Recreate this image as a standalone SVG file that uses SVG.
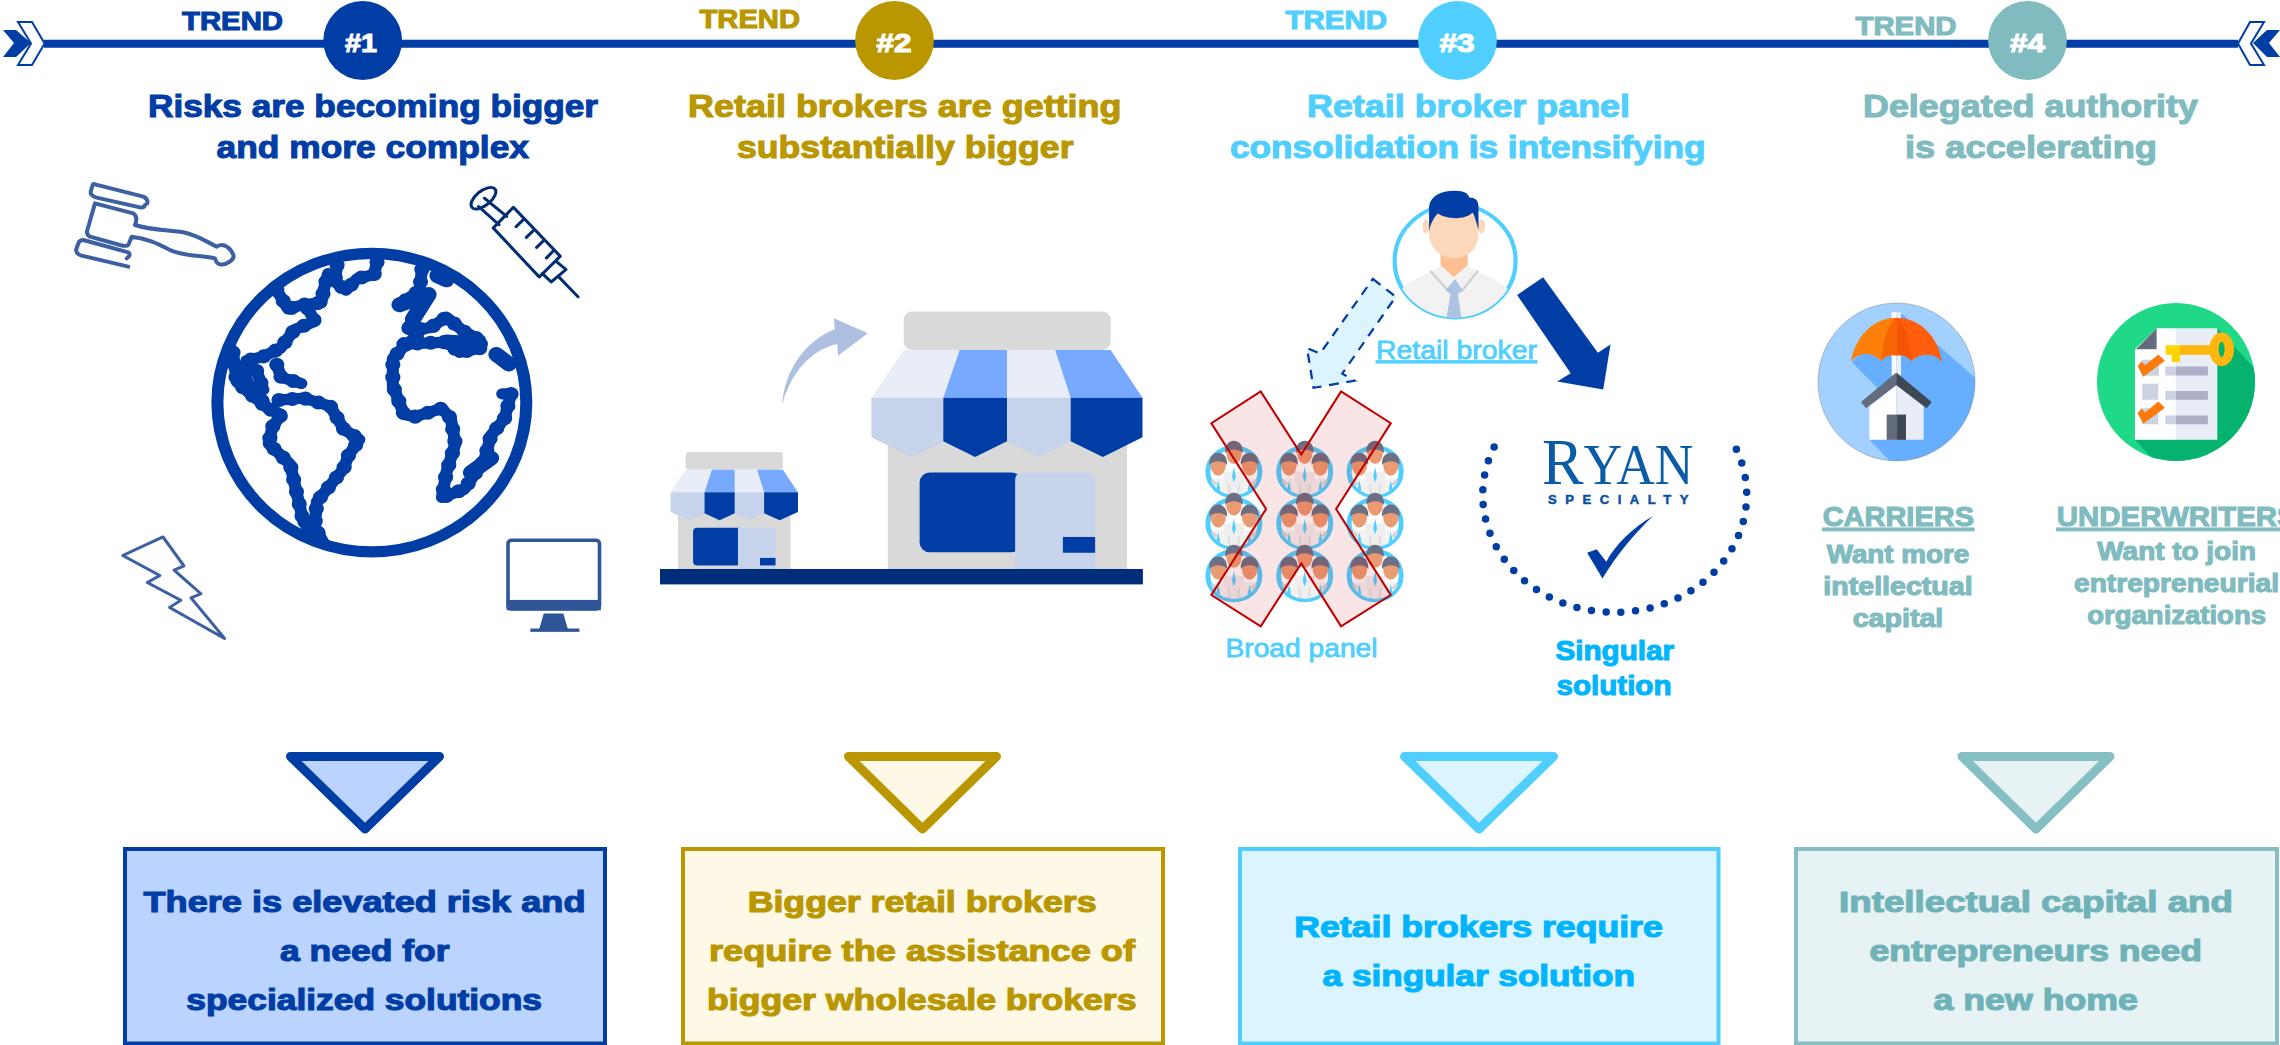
<svg xmlns="http://www.w3.org/2000/svg" xmlns:xlink="http://www.w3.org/1999/xlink" width="2280" height="1045" viewBox="0 0 2280 1045">
<style>
text{font-family:"Liberation Sans",Arial,sans-serif;font-weight:700;stroke-width:1.1px;paint-order:stroke}
.c1{fill:#003DA5;stroke:#003DA5}.c2{fill:#BA9700;stroke:#BA9700}.c3{fill:#50CFFF;stroke:#50CFFF}.c4{fill:#7FBBBF;stroke:#7FBBBF}
.c3b{fill:#00B4FF;stroke:#00B4FF}.c4b{fill:#6FB2B8;stroke:#6FB2B8}
.h{font-size:32px}.tr{font-size:26px}.num{font-size:26px;fill:#fff;stroke:#fff;text-anchor:middle}.bx{font-size:29px}.lb{font-size:25px}.ul{font-size:28px;text-decoration:underline}
.edge{stroke-linejoin:round;stroke-width:9}
.ln{fill:none;stroke-linejoin:round;stroke-linecap:round}
</style>
<defs>
<clipPath id="peepclip"><circle r="65"/></clipPath>
<g id="peephead"><ellipse cy="-52" rx="20" ry="30" fill="#EB9B72"/><path d="M-23-52C-27-98 27-98 23-52 13-66-13-66-23-52Z" fill="#6D7085"/></g>
<path id="continents" d="M755 640 750 680 775 700 800 672 838 662 845 630M620 700 645 745 680 735 720 730 725 700 735 660M690 745 705 775 660 795 628 840 590 860 552 870 548 915 575 950 600 985 630 1000 610 1030 602 1070 650 1120 667 1200 680 1260 720 1300M625 965 680 960 740 980 770 1035 805 1060 780 1100 770 1130 740 1170 710 1210 705 1270 725 1310M522 850 530 920 555 945 600 985M575 895 590 940M620 880 630 910 675 925M945 650 940 700 895 735 960 710 925 770 915 790 935 810 905 835 880 865 880 930 905 1000 930 1005 990 985 1010 1010 1020 1070 1000 1140 990 1200 1040 1180 1085 1110 1100 1050 1130 1010 1145 950 1125 950M905 830 1000 825 1030 850 1075 840 1075 820 1040 800 1000 765 965 790 935 795"/>
<g id="peeps">
<circle r="68" fill="#fff" stroke="#50CFFF" stroke-width="13"/>
<g clip-path="url(#peepclip)">
<path d="M-26 0H26L30 70H-30Z" fill="#EEE"/>
<path d="M-66 40C-60 22-50 18-41 18-32 18-22 22-18 40L-20 70H-66Z" fill="#F2F2F2"/>
<path d="M66 40C60 22 50 18 41 18 32 18 22 22 18 40L20 70H66Z" fill="#F2F2F2"/>
<path d="M0-14 5 14 0 30-5 14Z" fill="#50CFFF"/>
<path d="M-41 24-36 50-41 66-46 50ZM41 24 46 50 41 66 36 50Z" fill="#50CFFF"/>
<path d="M-56 22-44 34-60 42ZM56 22 44 34 60 42ZM-14 36-10 66M14 36 10 66" fill="#D4D4D4" stroke="#D4D4D4" stroke-width="3"/>
</g>
<use xlink:href="#peephead" href="#peephead"/>
<use xlink:href="#peephead" href="#peephead" transform="translate(-41 33)"/>
<use xlink:href="#peephead" href="#peephead" transform="translate(41 33)"/>
</g>
<clipPath id="cC"><ellipse cx="349.5" cy="907.5" rx="235.5" ry="187.5"/></clipPath>
<clipPath id="cU"><ellipse cx="1188" cy="907.5" rx="237" ry="187.5"/></clipPath>
<clipPath id="cB"><circle cx="745" cy="283" r="158"/></clipPath>
</defs>

<g id="connectors">
<path d="M44 43.700H2238" fill="none" stroke="#003DA5" stroke-width="8"/>
<path d="M3 30H16L31 43 16 57H3L14 43Z" fill="#003DA5"/>
<path d="M18 22H32L44.600 43.500 32 65H18L31 43.500Z" fill="#fff" stroke="#003DA5" stroke-width="2"/>
<path d="M2280 30H2267L2253 43 2267 57H2280L2269 43Z" fill="#003DA5"/>
<path d="M2264 22H2250L2238 43.500 2250 65H2264L2251 43.500Z" fill="#fff" stroke="#003DA5" stroke-width="2"/>
<path class="edge" d="M290.500 756.500H439.500L365 829Z" fill="#BAD3FF" stroke="#003DA5"/>
<path class="edge" d="M848.500 756.500H996.500L922.500 829Z" fill="#FEF8E6" stroke="#BA9700"/>
<path class="edge" d="M1404.500 756.500H1553.500L1479 829Z" fill="#DCF4FE" stroke="#50CFFF"/>
<path class="edge" d="M1962 756.500H2110L2036 829Z" fill="#E6F2F3" stroke="#85BFC3"/>
<g transform="translate(640 0) scale(.4082 .3954)"><path d="M348 1025C355 930 410 860 477 833L475 805 558 843 485 900 483 870C420 885 370 940 348 1025Z" fill="#AEBFE2"/></g>
<g transform="translate(1170 160) scale(.3827 .3571)">
<path d="M530 333 590 383 450 598 482 618 375 638 358 527 392 542Z" fill="#DCF4FE" stroke="#003DA5" stroke-width="6" stroke-dasharray="26 20"/>
<path d="M975 328 1118 540 1151 517 1132 643 1012 620 1047 597 907 378Z" fill="#003DA5"/>
</g>
</g>

<g id="trend1">
<circle cx="362.700" cy="40.500" r="39.400" fill="#003DA5"/>
<text class="num" x="361" y="52" textLength="32" lengthAdjust="spacingAndGlyphs">#1</text>
<text class="tr c1" x="182" y="30" textLength="101" lengthAdjust="spacingAndGlyphs">TREND</text>
<text class="h c1" x="148" y="117" textLength="450" lengthAdjust="spacingAndGlyphs">Risks are becoming bigger</text>
<text class="h c1" x="216.500" y="157.500" textLength="312.500" lengthAdjust="spacingAndGlyphs">and more complex</text>
</g>
<g id="globe" transform="scale(.4464 .4146)">
<ellipse cx="833" cy="971" rx="346" ry="360" fill="#fff" stroke="#003DA5" stroke-width="27"/>
<g class="ln" stroke="#003DA5">
<use xlink:href="#continents" href="#continents" stroke-width="27"/>
<use xlink:href="#continents" href="#continents" stroke-width="34" stroke-dasharray="0 30"/>
<path d="M1112 855 1140 878M1055 1140 1100 1105M980 665 1000 675M895 735 960 710 925 770M1000 825 1075 830" stroke-width="36"/>
</g>
</g>
<g id="gavel" class="ln" transform="translate(70 175) scale(.3333)" stroke="#3C60A2" stroke-width="12">
<path d="M75 28 220 65Q235 72 232 85L225 90Q222 100 210 97L80 68Q60 62 62 50L68 30Q70 25 75 28Z"/>
<path d="M75 85 190 115Q205 125 195 150C240 165 290 165 340 172 380 180 410 200 440 215 465 200 485 225 490 240 495 255 465 272 450 268 440 268 435 250 435 250 400 240 340 245 300 225 260 205 230 190 185 185L175 210Q170 215 150 210L60 185Q48 178 52 165Z"/>
<path d="M170 250Q185 240 175 232L40 195Q28 195 25 205L18 225Q20 238 35 242L175 275"/>
</g>
<g id="syringe" class="ln" transform="scale(.4464 .4146)" stroke="#002D72" stroke-width="7">
<ellipse cx="1083" cy="478" rx="34" ry="17" transform="rotate(-42 1083 478)"/>
<path d="M1085 478 1135 522M1072 498 1118 542"/>
<path d="M1150 500 1255 618 1208 668 1105 550Z"/>
<path d="M1245 630 1268 650 1235 680 1215 660"/>
<path d="M1252 668 1295 716"/>
<path d="M1172 530 1156 547M1195 556 1179 573M1218 580 1202 597M1240 605 1224 622"/>
</g>
<g id="lightning" transform="scale(.4464 .4146)"><path d="M275 1340 365 1295 412 1365 390 1375 450 1432 428 1442 503 1540 380 1465 405 1448 330 1405 358 1388Z" fill="#fff" stroke="#3C60A2" stroke-width="7" stroke-linejoin="round"/></g>
<g id="monitor" transform="scale(.4464 .4146)">
<rect x="1138" y="1303" width="205" height="166" rx="8" fill="#fff" stroke="#2F5597" stroke-width="8"/>
<rect x="1135" y="1447" width="211" height="25" fill="#2F5597"/>
<path d="M1218 1480H1262L1272 1517H1208Z" fill="#2F5597"/>
<rect x="1188" y="1516" width="110" height="8" fill="#2F5597"/>
</g>

<g id="trend2">
<circle cx="894.500" cy="40.500" r="39.400" fill="#BA9700"/>
<text class="num" x="894" y="52" textLength="35" lengthAdjust="spacingAndGlyphs">#2</text>
<text class="tr c2" x="699.500" y="28" textLength="100.500" lengthAdjust="spacingAndGlyphs">TREND</text>
<text class="h c2" x="688" y="117" textLength="433.500" lengthAdjust="spacingAndGlyphs">Retail brokers are getting</text>
<text class="h c2" x="737" y="157.500" textLength="336.500" lengthAdjust="spacingAndGlyphs">substantially bigger</text>
</g>
<g id="stores" transform="translate(640 0) scale(.4082 .3954)">
<rect x="607" y="1100" width="586" height="345" fill="#D9D9D9"/>
<rect x="646" y="788" width="507" height="97" rx="20" fill="#D9D9D9"/>
<path d="M646 885H783L743 1006H567ZM899 885H1017L1055 1006H899Z" fill="#E9EDF7"/>
<path d="M783 885H899V1006H743ZM1017 885H1153L1231 1006H1055Z" fill="#76A9FF"/>
<path d="M567 1006H743V1118L665 1156 567 1106ZM899 1006H1055V1116L977 1156 899 1116Z" fill="#C7D3EA"/>
<path d="M743 1006H899V1116L821 1156 743 1116ZM1055 1006H1231V1106L1134 1156 1055 1116Z" fill="#003DA5"/>
<rect x="685" y="1195" width="250" height="202" rx="25" fill="#003DA5"/>
<path d="M919 1215Q919 1195 939 1195H1095Q1115 1195 1115 1215V1445H919Z" fill="#C7D3EA"/>
<rect x="1036" y="1358" width="79" height="40" fill="#003DA5"/>
<rect x="93" y="1290" width="276" height="155" fill="#D9D9D9"/>
<rect x="112" y="1143" width="238" height="45" rx="8" fill="#D9D9D9"/>
<path d="M112 1188H176L158 1245H75ZM232 1188H287L304 1245H232Z" fill="#E9EDF7"/>
<path d="M176 1188H232V1245H158ZM287 1188H350L387 1245H304Z" fill="#76A9FF"/>
<path d="M75 1245H158V1298L121 1316 75 1295ZM232 1245H304V1298L268 1316 232 1298Z" fill="#C7D3EA"/>
<path d="M158 1245H232V1298L195 1316 158 1298ZM304 1245H387V1295L342 1316 304 1298Z" fill="#003DA5"/>
<rect x="130" y="1335" width="120" height="95" rx="10" fill="#003DA5"/>
<path d="M240 1335H322Q332 1335 332 1345V1445H240Z" fill="#C7D3EA"/>
<rect x="294" y="1411" width="38" height="19" fill="#003DA5"/>
<rect x="49" y="1439" width="1183" height="39" fill="#002D7A"/>
</g>

<g id="trend3">
<circle cx="1457.500" cy="40.500" r="39.400" fill="#50CFFF"/>
<text class="num" x="1457" y="52" textLength="35" lengthAdjust="spacingAndGlyphs">#3</text>
<text class="tr c3" x="1285.500" y="29" textLength="101.500" lengthAdjust="spacingAndGlyphs">TREND</text>
<text class="h c3" x="1307" y="117" textLength="323" lengthAdjust="spacingAndGlyphs">Retail broker panel</text>
<text class="h c3" x="1230" y="157.500" textLength="475.500" lengthAdjust="spacingAndGlyphs">consolidation is intensifying</text>
</g>
<g id="retail-broker">
<g transform="translate(1170 160) scale(.3827 .3571)">
<circle cx="745" cy="283" r="158" fill="#fff" stroke="#50CFFF" stroke-width="11"/>
<g clip-path="url(#cB)">
<path d="M600 370C620 335 680 320 707 295L745 330 778 295C810 320 865 335 890 370V450H600Z" fill="#F2F2F2"/>
<path d="M680 310 730 370M805 310 760 370" stroke="#D0D0D0" stroke-width="6" fill="none"/>
<path d="M745 333 765 365 752 375 762 445H722L733 375 720 365Z" fill="#AEC2E2"/>
</g>
<path d="M707 260H778V295L742 328 707 295Z" fill="#FDBF92"/>
<ellipse cx="669" cy="186" rx="9" ry="20" fill="#FDD7BA"/><ellipse cx="814" cy="186" rx="9" ry="20" fill="#FDD7BA"/>
<path d="M677 150V210C680 250 710 275 742 275 775 275 805 250 806 210V150Z" fill="#FDD7BA"/>
<path d="M677 200V130C680 100 710 85 745 86 770 86 780 95 782 105 800 105 806 115 806 130V195C800 175 795 150 790 148 770 170 720 165 700 150 690 160 680 180 677 200Z" fill="#003DA5"/>
</g>
<text x="1376" y="358.500" font-size="26" textLength="161" lengthAdjust="spacingAndGlyphs" class="c3" style="font-weight:400;text-decoration:underline;stroke-width:.8px">Retail broker</text>
</g>
<g id="broad-panel">
<g transform="translate(1170 160) scale(.3827 .3571)">
<use xlink:href="#peeps" href="#peeps" x="167" y="873"/><use xlink:href="#peeps" href="#peeps" x="352" y="873"/><use xlink:href="#peeps" href="#peeps" x="536" y="873"/>
<use xlink:href="#peeps" href="#peeps" x="167" y="1018"/><use xlink:href="#peeps" href="#peeps" x="352" y="1018"/><use xlink:href="#peeps" href="#peeps" x="536" y="1018"/>
<use xlink:href="#peeps" href="#peeps" x="167" y="1164"/><use xlink:href="#peeps" href="#peeps" x="352" y="1164"/><use xlink:href="#peeps" href="#peeps" x="536" y="1164"/>
<path d="M237 648 343 825 447 648 577 737 434 977 577 1218 447 1306 343 1130 237 1306 108 1218 251 977 108 737Z" fill="#C00000" fill-opacity=".1" stroke="#C00000" stroke-width="5.500"/>
</g>
<text class="c3" x="1225.500" y="657" font-size="25" textLength="152" lengthAdjust="spacingAndGlyphs" style="font-weight:400;stroke-width:.8px">Broad panel</text>
</g>
<g id="singular-solution">
<path d="M1494.100 447.100A132 117.500 0 1 0 1736.400 449.300" pathLength="33" fill="none" stroke="#003DA5" stroke-width="7.500" stroke-linecap="round" stroke-dasharray="0 1"/>
<text x="1542" y="484" textLength="151.500" lengthAdjust="spacingAndGlyphs" fill="#0B5CA6" style="font-family:'Liberation Serif',serif;font-weight:400;stroke:none;font-size:56px"><tspan style="font-size:65px">R</tspan>YAN</text>
<text x="1548" y="503.500" textLength="140.500" fill="#0B4FA0" stroke="#0B4FA0" style="font-size:13px;stroke-width:.5px">SPECIALTY</text>
<g transform="translate(1170 160) scale(.3827 .3571)"><path d="M1090 1100 1115 1090 1140 1125C1165 1075 1210 1030 1262 997 1210 1050 1165 1110 1130 1172Z" fill="#003DA5"/></g>
<text class="c3b" x="1555.500" y="660" font-size="28" textLength="118.500" lengthAdjust="spacingAndGlyphs">Singular</text>
<text class="c3b" x="1556.500" y="694.500" font-size="28" textLength="115" lengthAdjust="spacingAndGlyphs">solution</text>
</g>

<g id="trend4">
<circle cx="2027.500" cy="40.500" r="39.400" fill="#7FBBBF"/>
<text class="num" x="2027.500" y="52" textLength="35" lengthAdjust="spacingAndGlyphs">#4</text>
<text class="tr c4" x="1855.500" y="34.500" textLength="101" lengthAdjust="spacingAndGlyphs">TREND</text>
<text class="h c4" x="1863" y="117" textLength="335" lengthAdjust="spacingAndGlyphs">Delegated authority</text>
<text class="h c4" x="1905" y="157.500" textLength="252" lengthAdjust="spacingAndGlyphs">is accelerating</text>
</g>
<g id="carriers">
<g transform="translate(1780 0) scale(.3333 .4209)">
<ellipse cx="349.500" cy="907.500" rx="235.500" ry="187.500" fill="#A3D1FF"/>
<g clip-path="url(#cC)"><path d="M215 860 290 920 268 1045 335 1100H590V900L365 745 355 755Z" fill="#66AFFF"/></g>
<ellipse cx="349.500" cy="907.500" rx="235.500" ry="187.500" fill="none" stroke="#8A8F98" stroke-width="1.500"/>
<rect x="335" y="742" width="14" height="150" fill="#fff"/><rect x="349" y="742" width="14" height="150" fill="#E9EDF5"/>
<path d="M349 755C280 755 225 800 213 860 235 835 280 835 303 858 315 845 335 842 349 845Z" fill="#FF8008"/>
<path d="M349 755C420 755 475 800 486 860 470 840 420 835 395 858 380 845 365 842 349 845Z" fill="#FF5F0D"/>
<path d="M349 755C325 770 308 810 303 858 315 845 335 842 349 845 365 842 380 845 395 858 390 810 375 770 349 755Z" fill="#F24900" fill-opacity=".5"/>
<path d="M268 965 349 915V1045H268Z" fill="#fff"/>
<path d="M349 915 431 965V1045H349Z" fill="#E9EDF5"/>
<path d="M243 955 349 885V915L258 970Z" fill="#646B7D"/>
<path d="M455 955 349 885V915L440 970Z" fill="#3F4852"/>
<rect x="320" y="985" width="29" height="60" fill="#646B7D"/><rect x="349" y="985" width="29" height="60" fill="#3F4852"/>
</g>
<text class="ul c4" x="1822.700" y="526" textLength="151.300" lengthAdjust="spacingAndGlyphs">CARRIERS</text>
<text class="lb c4" x="1826.700" y="563" textLength="142.600" lengthAdjust="spacingAndGlyphs">Want more</text>
<text class="lb c4" x="1823.300" y="595" textLength="149.400" lengthAdjust="spacingAndGlyphs">intellectual</text>
<text class="lb c4" x="1852.700" y="626.500" textLength="90.600" lengthAdjust="spacingAndGlyphs">capital</text>
</g>
<g id="underwriters">
<g transform="translate(1780 0) scale(.3333 .4209)">
<ellipse cx="1188" cy="907.500" rx="237" ry="187.500" fill="#1FD988"/>
<g clip-path="url(#cU)"><path d="M1312 780 1430 880V1100H1130L1065 1045H1312Z" fill="#05B26E"/></g>
<path d="M1130 780H1188V1045H1065V830Z" fill="#fff"/>
<path d="M1188 780H1312V1045H1188Z" fill="#E9EDF5"/>
<path d="M1130 780V830H1068Z" fill="#646B7D"/>
<path d="M1156 871H1188V892H1156ZM1156 929H1188V950H1156ZM1156 987H1188V1008H1156ZM1087 855H1137V893H1087ZM1087 912H1135V950H1087ZM1087 970H1135V1008H1087Z" fill="#CBD2E3"/>
<path d="M1188 871H1284V892H1188ZM1188 929H1284V950H1188ZM1188 987H1284V1008H1188Z" fill="#ABB0C8"/>
<path d="M1073 870 1090 895 1155 857 1135 842 1095 868 1085 858ZM1073 982 1090 1007 1155 969 1135 954 1095 980 1085 970Z" fill="#FF7A0C"/>
<path d="M1157 820H1200V860H1175V843H1157Z" fill="#FFD500"/>
<rect x="1200" y="820" width="100" height="23" fill="#FFB70F"/>
<ellipse cx="1325" cy="830" rx="37" ry="40" fill="#FFB70F"/><ellipse cx="1325" cy="830" rx="9" ry="18" fill="#05B26E"/>
</g>
<text class="ul c4" x="2056.700" y="526" textLength="240" lengthAdjust="spacingAndGlyphs">UNDERWRITERS</text>
<text class="lb c4" x="2097.300" y="559.500" textLength="158.700" lengthAdjust="spacingAndGlyphs">Want to join</text>
<text class="lb c4" x="2074" y="591.500" textLength="205" lengthAdjust="spacingAndGlyphs">entrepreneurial</text>
<text class="lb c4" x="2087.300" y="623.500" textLength="178.700" lengthAdjust="spacingAndGlyphs">organizations</text>
</g>

<g id="box1">
<path d="M125 849H605V1043.500H125Z" fill="#BAD3FF" stroke="#003DA5" stroke-width="4"/>
<text class="bx c1" x="143.500" y="912" textLength="442" lengthAdjust="spacingAndGlyphs">There is elevated risk and</text>
<text class="bx c1" x="280" y="961" textLength="169.500" lengthAdjust="spacingAndGlyphs">a need for</text>
<text class="bx c1" x="186.300" y="1009.500" textLength="355.700" lengthAdjust="spacingAndGlyphs">specialized solutions</text>
</g>
<g id="box2">
<path d="M683 849H1163V1043.500H683Z" fill="#FEF8E6" stroke="#BA9700" stroke-width="4"/>
<text class="bx c2" x="747.700" y="912" textLength="348.800" lengthAdjust="spacingAndGlyphs">Bigger retail brokers</text>
<text class="bx c2" x="709" y="961" textLength="426" lengthAdjust="spacingAndGlyphs">require the assistance of</text>
<text class="bx c2" x="707" y="1009.500" textLength="429.500" lengthAdjust="spacingAndGlyphs">bigger wholesale brokers</text>
</g>
<g id="box3">
<path d="M1240 849H1718.500V1043.500H1240Z" fill="#DCF4FE" stroke="#50CFFF" stroke-width="4"/>
<text class="bx c3b" x="1294.300" y="937" textLength="368.500" lengthAdjust="spacingAndGlyphs">Retail brokers require</text>
<text class="bx c3b" x="1322.600" y="985.500" textLength="312.400" lengthAdjust="spacingAndGlyphs">a singular solution</text>
</g>
<g id="box4">
<path d="M1796 849H2277V1043.500H1796Z" fill="#E6F2F3" stroke="#85BFC3" stroke-width="4"/>
<text class="bx c4b" x="1839" y="912" textLength="394" lengthAdjust="spacingAndGlyphs">Intellectual capital and</text>
<text class="bx c4b" x="1869.400" y="961" textLength="332.600" lengthAdjust="spacingAndGlyphs">entrepreneurs need</text>
<text class="bx c4b" x="1933.500" y="1009.500" textLength="204.500" lengthAdjust="spacingAndGlyphs">a new home</text>
</g>
</svg>
